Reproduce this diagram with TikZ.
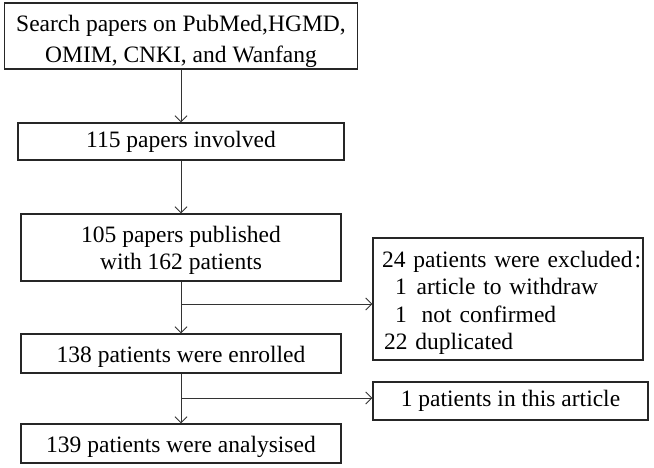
\documentclass[tikz,border=0pt]{standalone}
\usepackage{fontspec}
\setmainfont{Liberation Serif}
\usetikzlibrary{arrows.meta}
\begin{document}
\begin{tikzpicture}[x=1pt,y=-1pt,
  box/.style={draw=black!85, line width=1.3pt, rectangle, inner sep=0pt, align=center,
    font=\fontsize{23.5}{27}\selectfont},
  conn/.style={draw=black!80, line width=1pt},
  arr/.style={conn, -{Straight Barb[length=6pt,width=12pt,line width=0.9pt]}}]
\useasboundingbox (0,0) rectangle (654,467);
\node[box, minimum width=353pt, minimum height=66pt] (b1) at (181,36)
  {\rule{0pt}{28pt}Search papers on PubMed,HGMD,\\[4pt] OMIM, CNKI, and Wanfang};
\node[box, minimum width=326pt, minimum height=37pt] (b2) at (181,141.5) {115 papers involved};
\node[box, minimum width=320pt, minimum height=67pt] (b3) at (181,247.5)
  {\rule{0pt}{22pt}105 papers published\\ with 162 patients};
\node[box, minimum width=320pt, minimum height=39pt] (b4) at (181,353.5) {\rule{0pt}{22pt}138 patients were enrolled};
\node[box, minimum width=320pt, minimum height=39pt] (b5) at (181,443.5) {\rule{0pt}{23pt}139 patients were analysised};
\node[box, minimum width=270pt, minimum height=122pt, text width=266pt, align=left,
  inner xsep=2pt, font=\fontsize{23.5}{27.3}\selectfont] (r1) at (508,299)
  {\mbox{\rule{0pt}{24pt}\hspace*{7pt}24 patients were excluded\kern2pt:}\\
   \mbox{\hspace*{20pt}1\hspace*{10pt}article to withdraw}\\
   \mbox{\hspace*{20pt}1\hspace*{15pt}not confirmed}\\
   \mbox{\hspace*{9pt}22 duplicated}};
\node[box, minimum width=275pt, minimum height=38pt] (r2) at (510.5,401) {1 patients in this article};
\coordinate (j1) at (181,304);
\coordinate (j2) at (181,398);
\draw[arr] (b1.south) -- (b2.north);
\draw[arr] (b2.south) -- (b3.north);
\draw[arr] (b3.south) -- (b4.north);
\draw[arr] (b4.south) -- (b5.north);
\draw[arr] (j1) -- (r1.west |- j1);
\draw[arr] (j2) -- (r2.west |- j2);
\end{tikzpicture}
\end{document}
